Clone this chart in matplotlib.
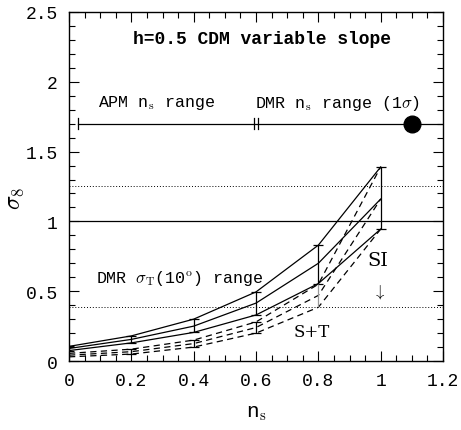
import numpy as np
import matplotlib
matplotlib.use('Agg')
import matplotlib.pyplot as plt
from matplotlib.ticker import MultipleLocator

plt.rcParams['font.family'] = ['Liberation Mono', 'DejaVu Sans']
plt.rcParams['mathtext.fontset'] = 'cm'

# spectral index values
ns = [0.0, 0.2, 0.4, 0.6, 0.8, 1.0]
# SI (scalar only) sigma_8 range: upper / central / lower
si_hi = [0.105, 0.18, 0.30, 0.495, 0.83, 1.39]
si_mid = [0.09, 0.155, 0.25, 0.415, 0.70, 1.16]
si_lo = [0.075, 0.13, 0.205, 0.33, 0.555, 0.945]
# S+T (scalar + tensor)
st_hi = [0.055, 0.085, 0.15, 0.28, 0.55, 1.39]
st_mid = [0.042, 0.067, 0.125, 0.24, 0.47, 1.16]
st_lo = [0.03, 0.05, 0.10, 0.20, 0.385, 0.945]

# observational bands
sigma_one = 1.0
dotted_levels = [1.25, 0.39]
range_y = 1.7
apm_start = 0.03
apm_end = [0.595, 0.605]
dmr_best = 1.1

fig = plt.figure(figsize=(4.61, 4.31), dpi=100)
ax = fig.add_axes([0.1497, 0.160, 0.8113, 0.810])

lw = 0.9
for y in [si_hi, si_mid, si_lo]:
    ax.plot(ns, y, color='black', lw=lw)
for y in [st_hi, st_mid, st_lo]:
    ax.plot(ns, y, color='black', lw=lw, ls=(0, (5, 3.5)))

# error bars
ax.vlines(ns, si_lo, si_hi, color='black', lw=lw)
ax.plot(ns, si_hi, ls='none', marker='_', ms=7, mew=lw, color='black')
ax.plot(ns, si_lo, ls='none', marker='_', ms=7, mew=lw, color='black')
ax.vlines(ns[1:4], st_lo[1:4], st_hi[1:4], color='black', lw=lw)
ax.plot(ns[1:4], st_hi[1:4], ls='none', marker='_', ms=7, mew=lw, color='black')
ax.plot(ns[1:4], st_lo[1:4], ls='none', marker='_', ms=7, mew=lw, color='black')
ax.vlines(ns[4], st_lo[4], st_hi[4], color='0.6', lw=lw)

ax.axhline(sigma_one, color='black', lw=lw)
for lv in dotted_levels:
    ax.axhline(lv, color='black', lw=0.7, ls=(0, (1, 2)))

# n_s range bar
ax.plot([apm_start, 1.2], [range_y, range_y], color='black', lw=lw)
ax.plot([apm_start, apm_start], [range_y - 0.04, range_y + 0.04], color='black', lw=lw)
for xe in apm_end:
    ax.plot([xe, xe], [range_y - 0.04, range_y + 0.04], color='black', lw=lw)
ax.plot([dmr_best], [range_y], 'o', color='black', ms=12)

ax.text(0.62, 2.31, 'h=0.5 CDM variable slope', ha='center', va='center', fontsize=13, fontweight='bold')
ax.text(0.28, 1.855, r'APM n$_{\rm s}$ range', ha='center', va='center', fontsize=12)
ax.text(0.86, 1.855, r'DMR n$_{\rm s}$ range (1$\sigma$)', ha='center', va='center', fontsize=12)
ax.text(0.356, 0.60, r'DMR $\sigma_{\rm T}$(10$^{\rm o}$) range', ha='center', va='center', fontsize=12)
ax.text(0.99, 0.72, 'SI', ha='center', va='center', fontsize=14, family='DejaVu Serif')
ax.text(0.995, 0.50, r'$\downarrow$', ha='center', va='center', fontsize=12)
ax.text(0.78, 0.21, 'S+T', ha='center', va='center', fontsize=12, family='DejaVu Serif')

ax.set_xlim(0, 1.2)
ax.set_ylim(0, 2.5)
ax.xaxis.set_major_locator(MultipleLocator(0.2))
ax.xaxis.set_minor_locator(MultipleLocator(0.05))
ax.yaxis.set_major_locator(MultipleLocator(0.5))
ax.yaxis.set_minor_locator(MultipleLocator(0.1))
ax.xaxis.set_major_formatter(plt.FuncFormatter(lambda v, p: ('%g' % round(v, 2))))
ax.yaxis.set_major_formatter(plt.FuncFormatter(lambda v, p: ('%g' % round(v, 2))))
ax.tick_params(which='both', direction='in', top=True, right=True, labelsize=13)
ax.tick_params(which='major', length=7, width=0.8, pad=8)
ax.tick_params(which='minor', length=4, width=0.8)
for s in ax.spines.values():
    s.set_linewidth(1.0)

ax.set_xlabel(r'n$_{\rm s}$', fontsize=15, labelpad=10)
ax.set_ylabel(r'$\sigma_8$', fontsize=17, labelpad=0)
ax.yaxis.set_label_coords(-0.115, 0.47)

fig.savefig('out.png', dpi=100)
